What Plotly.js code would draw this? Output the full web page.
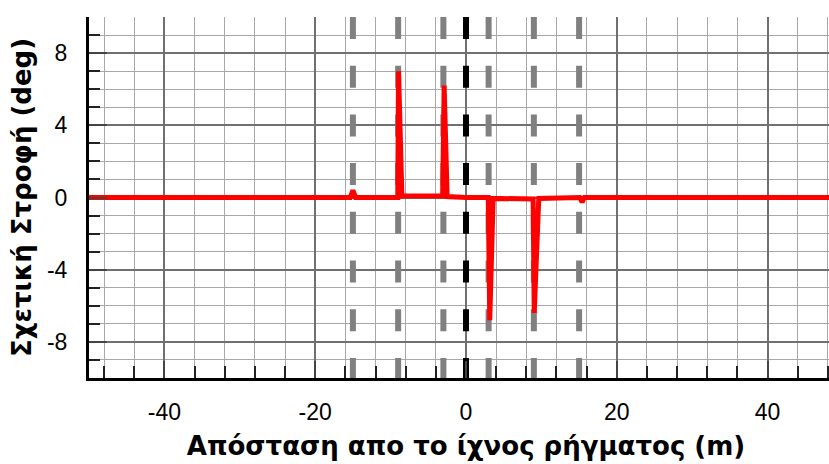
<!DOCTYPE html>
<html>
<head>
<meta charset="utf-8">
<script src="https://cdn.plot.ly/plotly-3.0.1.min.js"></script>
<style>
html,body{margin:0;padding:0;overflow:hidden;background:#fff;}
#chart{width:860px;height:464px;}
</style>
</head>
<body>
<div id="chart"></div>
<script>
// Red curve: relative rotation vs distance from fault trace
const distance = [-50, -15.35, -15.0, -14.65, -9.05, -8.95, -8.5, -3.1, -2.9, -2.5, 0, 2.95, 3.15, 3.6, 8.9, 9.05, 9.65, 15.1, 15.4, 15.7, 50];
const rotation = [0, 0, 0.4, 0, 0, 7.0, 0.08, 0.1, 6.2, 0.05, 0, 0, -6.8, -0.05, -0.08, -6.4, -0.05, 0, -0.25, 0, 0];

// Vertical dashed reference lines
const grayLines = [-15, -9, -3, 3, 9, 15];
const blackLines = [0];
const yRange = [-10, 10];
const xRange = [-50, 50];

// Tick labels (hyphen minus as in the original)
const xTickVals = [-40, -20, 0, 20, 40];
const xTickText = ['-40', '-20', '0', '20', '40'];
const yTickVals = [-8, -4, 0, 4, 8];
const yTickText = ['-8', '-4', '0', '4', '8'];

const xTitle = 'Απόσταση απο το ίχνος ρήγματος (m)';
const yTitle = 'Σχετική Στροφή (deg)';

const traces = [];
function vline(x, color) {
  return {
    x: [x, x], y: [yRange[1], yRange[0]], mode: 'lines', type: 'scatter',
    line: {color: color, width: 6, dash: '22px,26.7px'},
    hoverinfo: 'skip', showlegend: false
  };
}
grayLines.forEach(v => traces.push(vline(v, '#808080')));
blackLines.forEach(v => traces.push(vline(v, '#000000')));
traces.push({
  x: distance, y: rotation, mode: 'lines', type: 'scatter',
  line: {color: '#ff0000', width: 5}, showlegend: false
});

const tickFamily = '"Liberation Sans", Arial, sans-serif';
const titleFamily = '"DejaVu Sans", Verdana, sans-serif';

const layout = {
  width: 860, height: 464,
  margin: {l: 89, r: 17, t: 17, b: 86},
  paper_bgcolor: '#fff', plot_bgcolor: '#fff',
  showlegend: false,
  font: {family: tickFamily, color: '#000'},
  xaxis: {
    range: xRange, tickmode: 'array', tickvals: xTickVals, ticktext: xTickText,
    ticks: 'inside', ticklen: 17, tickwidth: 2, tickcolor: '#444',
    showgrid: true, gridcolor: '#707070', gridwidth: 2,
    zeroline: false,
    showline: true, linecolor: '#000', linewidth: 3,
    tickfont: {family: tickFamily, size: 23, color: '#000'},
    ticklabelstandoff: 11,
    minor: {dtick: 4, tick0: 0, ticks: 'inside', ticklen: 12, tickwidth: 2, tickcolor: '#222', showgrid: true, gridcolor: '#a8a8a8', gridwidth: 1},
    title: {text: xTitle, font: {family: titleFamily, size: 26, color: '#000', weight: 'bold'}, standoff: 14}
  },
  yaxis: {
    range: yRange, tickmode: 'array', tickvals: yTickVals, ticktext: yTickText,
    ticks: 'inside', ticklen: 18, tickwidth: 2, tickcolor: '#444',
    showgrid: true, gridcolor: '#707070', gridwidth: 2,
    zeroline: false,
    showline: true, linecolor: '#000', linewidth: 3,
    tickfont: {family: tickFamily, size: 23, color: '#000'},
    ticklabelstandoff: 14,
    minor: {dtick: 1, tick0: 0, ticks: 'inside', ticklen: 11, tickwidth: 2, tickcolor: '#222', showgrid: true, gridcolor: '#a8a8a8', gridwidth: 1},
    title: {text: yTitle, font: {family: titleFamily, size: 26, color: '#000', weight: 'bold'}, standoff: 8}
  }
};

Plotly.newPlot('chart', traces, layout, {displayModeBar: false, staticPlot: true});
</script>
</body>
</html>
